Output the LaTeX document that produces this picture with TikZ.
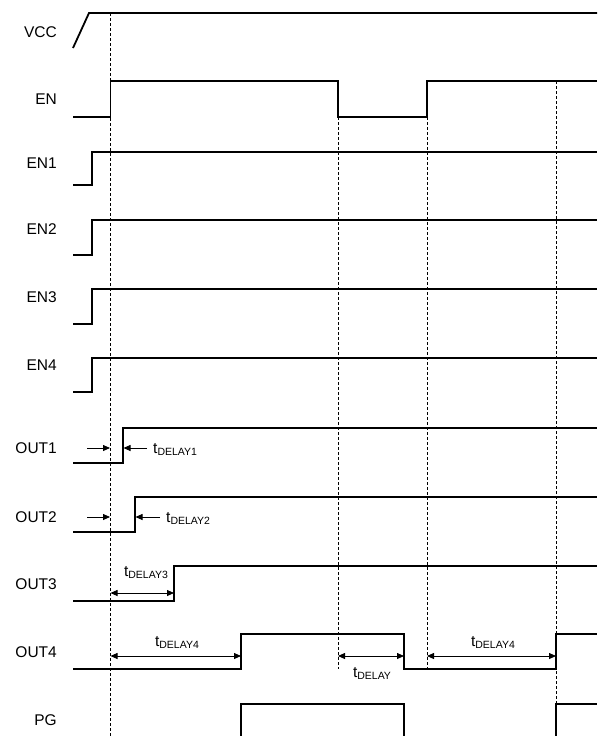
\documentclass[tikz,border=0pt]{standalone}
\usepackage{fontspec}
\setmainfont{Liberation Sans}
\usetikzlibrary{arrows.meta}

\newcommand{\tlabel}[1]{t\raisebox{-2pt}{\fontsize{10.5pt}{12pt}\selectfont #1}}

\tikzset{
  signame/.style={anchor=east, inner sep=0pt},
  wave/.style={line width=1.8pt, line join=miter},
  guide/.style={line width=0.7pt, dash pattern=on 3pt off 2pt},
  tick/.style={line width=0.8pt, -{Triangle[length=7pt,width=6pt]}},
  span/.style={line width=0.8pt, {Triangle[length=7pt,width=6pt]}-{Triangle[length=7pt,width=6pt]}},
}

\begin{document}
\begin{tikzpicture}[x=1pt, y=-1pt, font=\fontsize{15.5pt}{18pt}\selectfont]
          \useasboundingbox (0,0) rectangle (603,736);

          % Nodes for signal names
          \node[signame] (VCC) at (57,32) {VCC};
          \node[signame] (EN) at (57,99) {EN};
          \node[signame] (EN1) at (57,163) {EN1};
          \node[signame] (EN2) at (57,229) {EN2};
          \node[signame] (EN3) at (57,297) {EN3};
          \node[signame] (EN4) at (57,365) {EN4};
          \node[signame] (OUT1) at (57,448) {OUT1};
          \node[signame] (OUT2) at (57,517) {OUT2};
          \node[signame] (OUT3) at (57,584) {OUT3};
          \node[signame] (OUT4) at (57,652) {OUT4};
          \node[signame] (PG) at (57,720) {PG};

          % Dashed time references
          \draw[guide] (110.5,13) -- (110.5,736);
          \draw[guide] (338,117) -- (338,669);
          \draw[guide] (427,117) -- (427,669);
          \draw[guide] (556,81) -- (556,736);

          % Waveforms
          \draw[wave] (73,48) -- (89,13) -- (597,13);
          \draw[wave] (73,117) -- (110.5,117) -- (110.5,81) -- (338,81) -- (338,117) -- (427,117) -- (427,81) -- (597,81);
          \draw[wave] (73,185) -- (92,185) -- (92,152) -- (597,152);
          \draw[wave] (73,255) -- (92,255) -- (92,220) -- (597,220);
          \draw[wave] (73,324) -- (92,324) -- (92,289) -- (597,289);
          \draw[wave] (73,392) -- (92,392) -- (92,358) -- (597,358);
          \draw[wave] (73,463) -- (123,463) -- (123,428) -- (597,428);
          \draw[wave] (73,532) -- (135,532) -- (135,497) -- (597,497);
          \draw[wave] (73,601) -- (174,601) -- (174,566) -- (597,566);
          \draw[wave] (73,669) -- (241,669) -- (241,634) -- (404,634) -- (404,669) -- (556,669) -- (556,634) -- (597,634);
          \draw[wave] (241,736) -- (241,704) -- (404,704) -- (404,736);
          \draw[wave] (556,736) -- (556,704) -- (597,704);

          % Delay markers
          \draw[tick] (87,448) -- (110,448);
          \draw[tick] (147,448) -- (123.5,448);
          \node[anchor=west, inner sep=0pt] (D1) at (153,449) {\tlabel{DELAY1}};
          \draw[tick] (87,517) -- (110,517);
          \draw[tick] (160,517) -- (135.5,517);
          \node[anchor=west, inner sep=0pt] (D2) at (166,518) {\tlabel{DELAY2}};
          \draw[span] (110.5,593) -- (174,593);
          \node[inner sep=0pt] (D3) at (146,573) {\tlabel{DELAY3}};
          \draw[span] (110.5,656) -- (241,656);
          \node[inner sep=0pt] (D4a) at (177,642) {\tlabel{DELAY4}};
          \draw[span] (338,656) -- (404,656);
          \node[inner sep=0pt] (D) at (372,673) {\tlabel{DELAY}};
          \draw[span] (427,656) -- (556,656);
          \node[inner sep=0pt] (D4b) at (493,642) {\tlabel{DELAY4}};
        \end{tikzpicture}
\end{document}
